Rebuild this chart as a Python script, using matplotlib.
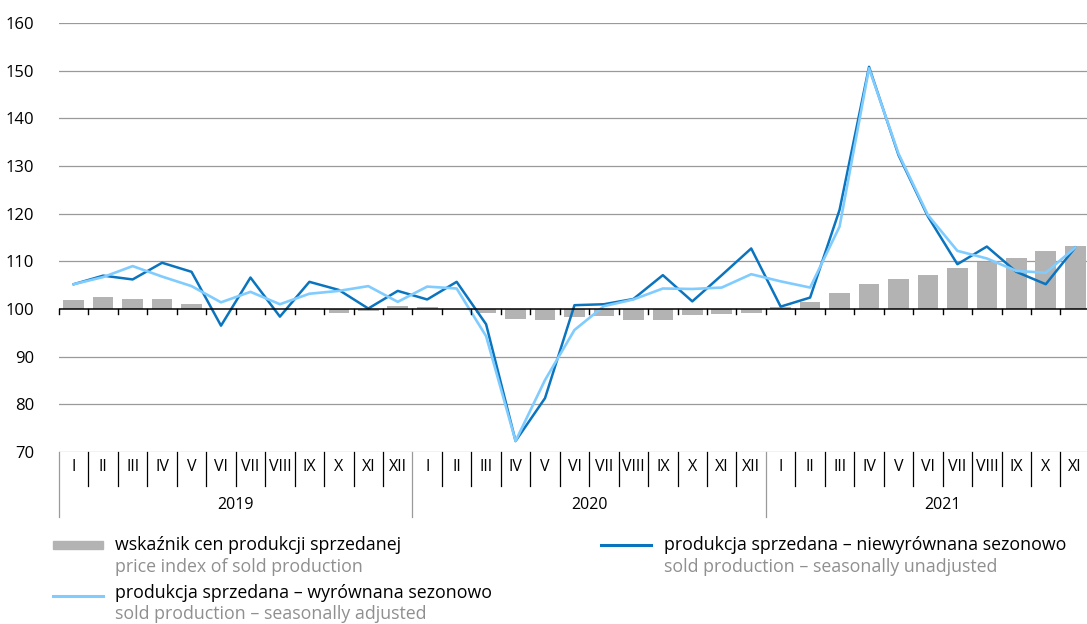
import numpy as np
import matplotlib
matplotlib.use('Agg')
import matplotlib.pyplot as plt
from matplotlib.lines import Line2D
from matplotlib.patches import Rectangle

plt.rcParams['font.family'] = ['Open Sans', 'DejaVu Sans']

# months I 2019 .. XI 2021
months = ['I', 'II', 'III', 'IV', 'V', 'VI', 'VII', 'VIII', 'IX', 'X', 'XI', 'XII']
month_labels = months * 2 + months[:11]
years = ['2019', '2020', '2021']

# price index of sold production (bars, around 100)
price_index = [101.9, 102.5, 102.0, 102.1, 101.0, 100.0, 100.0, 100.0, 100.2, 99.2, 99.5, 100.6,
               100.4, 99.9, 99.2, 98.0, 97.6, 98.4, 98.6, 97.7, 97.6, 98.8, 99.0, 99.2,
               100.4, 101.5, 103.4, 105.2, 106.3, 107.1, 108.5, 109.9, 110.6, 112.2, 113.3]

# sold production - seasonally unadjusted
unadjusted = [105.2, 107.0, 106.2, 109.7, 107.8, 96.5, 106.6, 98.4, 105.7, 104.0, 100.1, 103.8,
              102.0, 105.7, 96.8, 72.3, 81.3, 100.8, 101.0, 102.1, 107.1, 101.6, 107.1, 112.7,
              100.5, 102.4, 120.8, 150.8, 132.3, 119.4, 109.4, 113.1, 107.8, 105.2, 112.9]

# sold production - seasonally adjusted
adjusted = [105.2, 106.7, 109.0, 106.8, 104.8, 101.4, 103.6, 101.0, 103.2, 103.8, 104.8, 101.5,
            104.7, 104.3, 94.3, 72.3, 85.1, 95.6, 100.6, 102.0, 104.3, 104.2, 104.5, 107.3,
            105.8, 104.5, 117.3, 150.5, 132.6, 119.7, 112.2, 110.6, 108.0, 107.6, 112.9]

DARK = '#0a74bf'
LIGHT = '#80ccff'
BAR = '#b3b3b3'
GRID = '#9a9a9a'
SUB = '#8f8f8f'

W, H = 1087, 624
fig = plt.figure(figsize=(W / 100, H / 100), dpi=100)
ax = fig.add_axes([59 / W, 1 - 452 / H, 1 - 59 / W, (452 - 23) / H])

x = np.arange(len(month_labels))
base = 100
ax.bar(x, np.array(price_index) - base, bottom=base, width=0.7, color=BAR, zorder=2)
ax.plot(x, unadjusted, color=DARK, lw=1.8, zorder=3)
ax.plot(x, adjusted, color=LIGHT, lw=1.9, zorder=4)

ax.set_xlim(-0.5, len(x) - 0.6)
ax.set_ylim(70, 160)
for s in ax.spines.values():
    s.set_visible(False)

yt = np.arange(70, 161, 10)
for v in yt:
    if v == 100:
        continue
    ax.axhline(v, color=GRID, lw=0.9, zorder=1)
ax.axhline(100, color='black', lw=1.1, zorder=5)
ax.set_yticks(yt)
ax.tick_params(axis='y', length=0, pad=18, labelsize=12)
ax.set_xticks([])

# small ticks on the 100 line
for b in np.arange(-0.5, len(x), 1.0):
    ax.plot([b, b], [100, 98.9], color='black', lw=1, zorder=5, clip_on=False)

# month / year axis below the plot
ppu = (452 - 23) / 90.0
def ypix(p):
    return 70 - (p - 452) / ppu

for i, m in enumerate(month_labels):
    ax.text(i, ypix(467), m, ha='center', va='center', fontsize=11.5, clip_on=False)
for b in np.arange(0.5, len(x), 1.0):
    if (b + 0.5) % 12 == 0:
        continue
    ax.plot([b, b], [70, ypix(486)], color='black', lw=0.9, clip_on=False)
for k in range(3):
    b = k * 12 - 0.5
    ax.plot([b, b], [70, ypix(517)], color=GRID, lw=0.9, clip_on=False)
for k, yr in enumerate(years):
    c = k * 12 + 5.5
    ax.text(c, ypix(505), yr, ha='center', va='center', fontsize=11.5, clip_on=False)

# legend drawn by hand
def fx(p):
    return p / W

def fy(p):
    return 1 - p / H

fs = 12.8
fig.add_artist(Rectangle((fx(53), fy(549)), fx(50), 8 / H, color=BAR))
fig.text(fx(115), fy(545), 'wskaźnik cen produkcji sprzedanej', fontsize=fs, va='center')
fig.text(fx(115), fy(567), 'price index of sold production', fontsize=fs, va='center', color=SUB)

fig.add_artist(Line2D([fx(53), fx(103)], [fy(596), fy(596)], color=LIGHT, lw=2.2))
fig.text(fx(115), fy(593), 'produkcja sprzedana – wyrównana sezonowo', fontsize=fs, va='center')
fig.text(fx(115), fy(614), 'sold production – seasonally adjusted', fontsize=fs, va='center', color=SUB)

fig.add_artist(Line2D([fx(601), fx(651)], [fy(545), fy(545)], color=DARK, lw=2.2))
fig.text(fx(664), fy(545), 'produkcja sprzedana – niewyrównana sezonowo', fontsize=fs, va='center')
fig.text(fx(664), fy(567), 'sold production – seasonally unadjusted', fontsize=fs, va='center', color=SUB)

fig.savefig('out.png', dpi=100)
